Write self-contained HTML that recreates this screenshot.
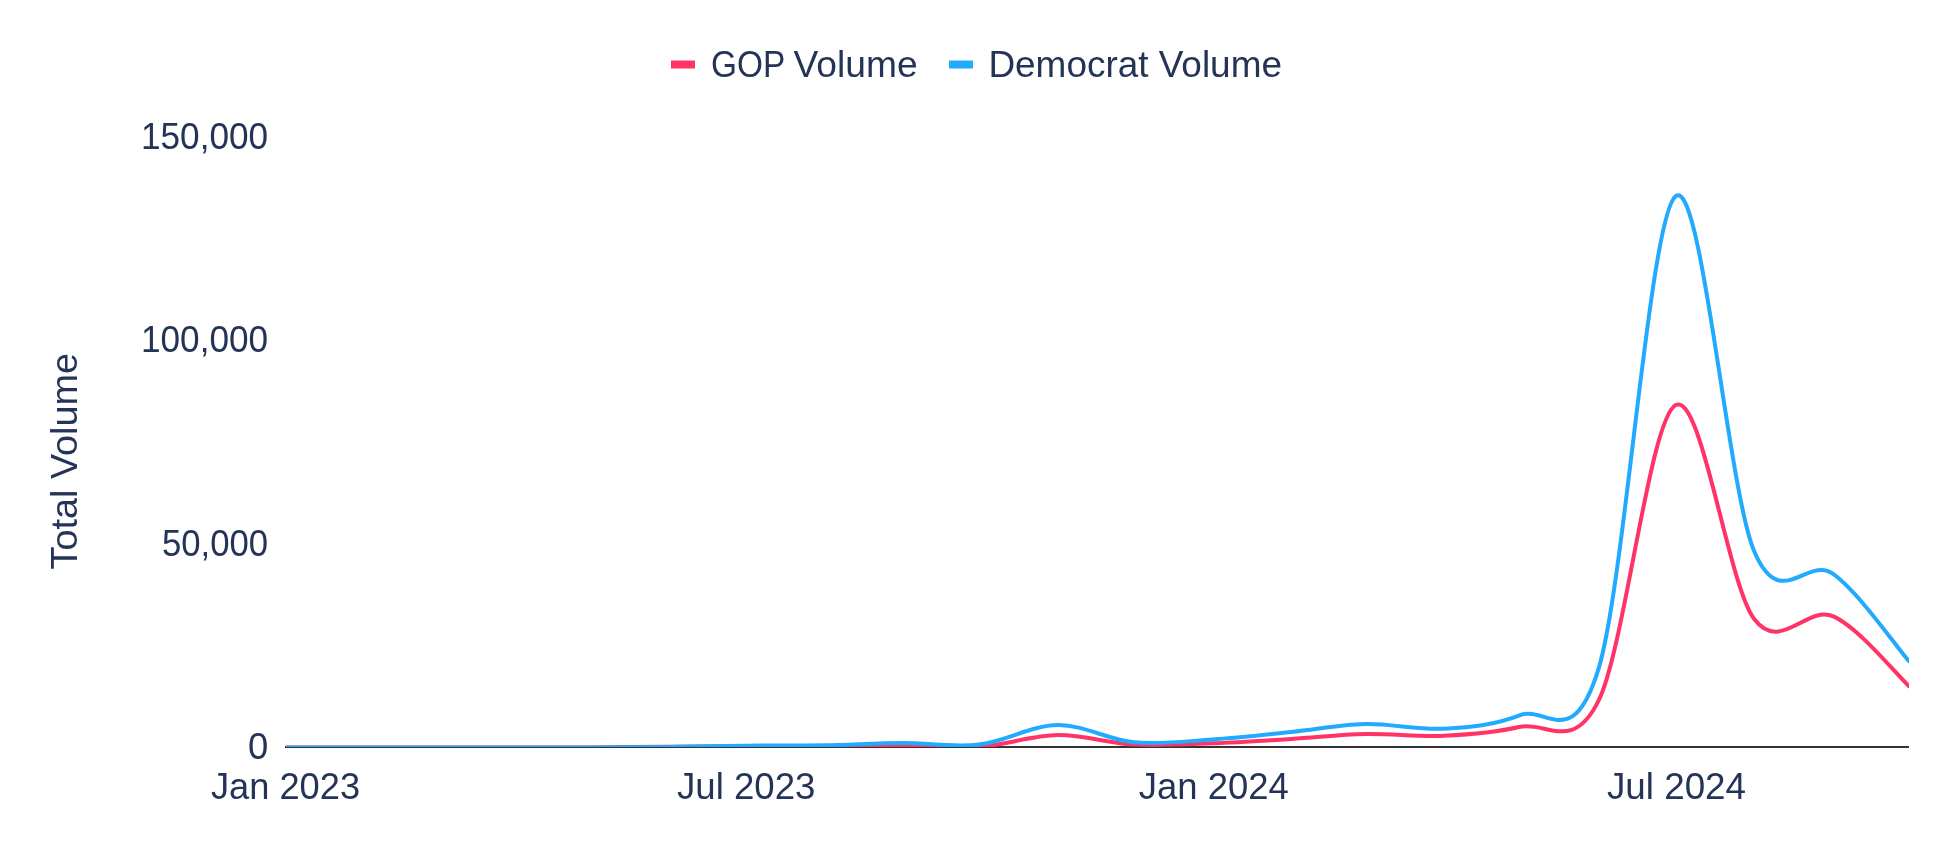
<!DOCTYPE html>
<html lang="en">
<head>
<meta charset="utf-8">
<title>GOP Volume vs Democrat Volume</title>
<style>
  html, body { margin: 0; padding: 0; background: #ffffff; }
  body { width: 1952px; height: 852px; overflow: hidden; }
  svg { display: block; will-change: transform; }
  text { font-family: "Liberation Sans", sans-serif; font-size: 36px; fill: #243456; }
</style>
</head>
<body>
<svg width="1952" height="852" viewBox="0 0 1952 852">
  <rect x="0" y="0" width="1952" height="852" fill="#ffffff"/>

  <!-- legend -->
  <g id="legend">
    <rect x="671" y="60.5" width="24" height="8" fill="#ff3366"/>
    <text y="76.7"><tspan x="711.09" textLength="73.56" lengthAdjust="spacingAndGlyphs">GOP</tspan> <tspan x="793.64" textLength="123.99" lengthAdjust="spacingAndGlyphs">Volume</tspan></text>
    <rect x="949" y="60.5" width="24" height="8" fill="#22aaff"/>
    <text x="988.42" y="76.7" textLength="293.54" lengthAdjust="spacingAndGlyphs">Democrat Volume</text>
  </g>

  <!-- y axis labels -->
  <g id="yaxis">
    <text x="141.01" y="149" textLength="127.15" lengthAdjust="spacingAndGlyphs">150,000</text>
    <text x="141.01" y="352.3" textLength="127.15" lengthAdjust="spacingAndGlyphs">100,000</text>
    <text x="161.95" y="556" textLength="106.16" lengthAdjust="spacingAndGlyphs">50,000</text>
    <text x="247.98" y="759.4" textLength="20.27" lengthAdjust="spacingAndGlyphs">0</text>
  </g>

  <!-- y axis title -->
  <text id="ytitle" transform="translate(77.2,569.49) rotate(-90)" x="0" y="0" textLength="216.60" lengthAdjust="spacingAndGlyphs">Total Volume</text>

  <!-- x axis labels -->
  <g id="xaxis">
    <text x="210.95" y="798.9" textLength="149.11" lengthAdjust="spacingAndGlyphs">Jan 2023</text>
    <text x="676.94" y="798.9" textLength="138.50" lengthAdjust="spacingAndGlyphs">Jul 2023</text>
    <text x="1138.84" y="798.9" textLength="150.01" lengthAdjust="spacingAndGlyphs">Jan 2024</text>
    <text x="1606.93" y="798.9" textLength="139.10" lengthAdjust="spacingAndGlyphs">Jul 2024</text>
  </g>

  <!-- baseline -->
  <rect x="285" y="746" width="1624" height="2" fill="#333333"/>

  <!-- series -->
  <defs>
    <clipPath id="plotclip"><rect x="286" y="100" width="1623" height="647"/></clipPath>
  </defs>
  <g id="series" clip-path="url(#plotclip)" fill="none" stroke-width="4" stroke-linejoin="round" stroke-linecap="round">
    <path id="gop" stroke="#ff3366" d="M285.0,747.4 C298.1,747.4 338.8,747.4 363.8,747.4 C388.8,747.4 410.0,747.4 434.9,747.4 C459.9,747.4 487.9,747.4 513.7,747.4 C539.6,747.4 564.1,747.5 590.0,747.4 C615.8,747.3 642.9,746.8 668.8,746.7 C694.6,746.6 719.2,746.6 745.0,746.6 C770.8,746.6 797.5,747.1 823.8,747.0 C850.1,746.9 876.7,746.0 902.6,746.0 C928.4,746.0 953.0,748.8 978.8,747.0 C1004.7,745.2 1031.8,735.5 1057.6,735.1 C1083.4,734.7 1108.0,743.2 1133.9,744.6 C1159.7,745.9 1186.4,744.3 1212.6,743.3 C1238.9,742.4 1266.0,740.6 1291.4,739.0 C1316.8,737.5 1339.7,734.5 1365.1,734.0 C1390.5,733.4 1418.1,737.0 1443.9,735.8 C1469.7,734.6 1494.3,732.8 1520.2,726.8 C1546.0,720.9 1573.0,753.6 1598.9,700.0 C1624.9,646.3 1649.8,418.7 1675.7,405.1 C1701.5,391.6 1727.8,583.6 1754.0,618.8 C1780.1,653.9 1806.9,605.0 1832.8,616.2 C1858.6,627.4 1896.3,674.5 1909.0,686.2"/>
    <path id="dem" stroke="#22aaff" d="M285.0,747.4 C298.1,747.4 338.8,747.4 363.8,747.4 C388.8,747.4 410.0,747.4 434.9,747.4 C459.9,747.4 487.9,747.4 513.7,747.4 C539.6,747.4 564.1,747.5 590.0,747.4 C615.8,747.3 642.9,747.2 668.8,746.9 C694.6,746.6 719.2,746.0 745.0,745.7 C770.8,745.4 797.5,745.7 823.8,745.3 C850.1,744.9 876.7,743.2 902.6,743.1 C928.4,743.0 953.0,747.6 978.8,744.6 C1004.7,741.6 1031.8,725.4 1057.6,725.0 C1083.4,724.6 1108.0,739.9 1133.9,742.3 C1159.7,744.7 1186.4,741.2 1212.6,739.5 C1238.9,737.8 1266.0,734.6 1291.4,732.0 C1316.8,729.5 1339.7,724.6 1365.1,724.0 C1390.5,723.4 1418.1,730.1 1443.9,728.7 C1469.7,727.2 1494.3,725.3 1520.2,715.1 C1546.0,705.0 1573.0,754.1 1598.9,667.6 C1624.9,581.1 1649.8,215.6 1675.7,196.1 C1701.5,176.7 1727.8,487.9 1754.0,550.8 C1780.1,613.8 1806.9,555.3 1832.8,573.7 C1858.6,592.1 1896.3,646.7 1909.0,661.3"/>
  </g>
</svg>
</body>
</html>
